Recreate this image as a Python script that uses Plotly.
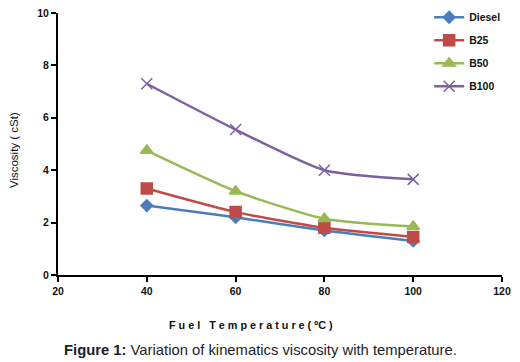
import plotly.graph_objects as go

temps = [40, 60, 80, 100]
diesel = [2.65, 2.2, 1.7, 1.3]
b25 = [3.3, 2.4, 1.8, 1.45]
b50 = [4.75, 3.2, 2.15, 1.85]
b100 = [7.3, 5.55, 4.0, 3.65]

series = [
    ("Diesel", diesel, "#4a7ebb", "diamond", 9),
    ("B25", b25, "#be4b48", "square", 11),
    ("B50", b50, "#98b954", "triangle-up", 11),
    ("B100", b100, "#7d60a0", "x-thin-open", 11),
]

fig = go.Figure()
for name, vals, col, sym, sz in series:
    fig.add_trace(go.Scatter(
        x=temps, y=vals, name=name, legendgroup=name, mode="lines+markers",
        line=dict(color=col, width=2.5, shape="spline", smoothing=0.6),
        marker=dict(symbol=sym, size=sz, color=col, line=dict(color=col, width=1.5)),
    ))

fig.update_layout(
    width=520, height=362,
    margin=dict(l=50, r=26, t=5, b=95, autoexpand=False),
    paper_bgcolor="white", plot_bgcolor="white",
    font=dict(family="Liberation Sans, Arial", color="#111", size=11),
    showlegend=True,
    legend=dict(x=0.836, y=1.039, xanchor="left", yanchor="top",
                font=dict(size=10.5, color="#111", weight="bold"), tracegroupgap=4,
                itemwidth=30, bgcolor="rgba(0,0,0,0)"),
    xaxis=dict(range=[20, 120], dtick=20, showgrid=False, zeroline=False,
               showline=True, linecolor="black", linewidth=2, automargin=False,
               ticks="outside", ticklen=5, tickcolor="black", tickwidth=1.5,
               ticklabeloverflow="allow",
               tickfont=dict(size=10.5, color="#111", weight="bold")),
    yaxis=dict(range=[0, 10], dtick=2, showgrid=False, zeroline=False,
               showline=True, linecolor="black", linewidth=2, automargin=False,
               ticks="outside", ticklen=5, tickcolor="black", tickwidth=1.5,
               ticklabeloverflow="allow",
               tickfont=dict(size=10.5, color="#111", weight="bold")),
    annotations=[
        dict(text="Viscosity ( cSt)", x=-0.099, y=0.477, xref="paper", yref="paper",
             textangle=-90, showarrow=False, font=dict(size=11.5, color="#111"),
             xanchor="center", yanchor="middle"),
        dict(text="<b>F u e l   T e m p e r a t u r e ( ºC )</b>", x=0.435, y=-0.191, xref="paper", yref="paper",
             showarrow=False, font=dict(size=10.8, color="#111", family="Liberation Sans, Arial"),
             xanchor="center", yanchor="middle"),
        dict(text="<b>Figure 1:</b> Variation of kinematics viscosity with temperature.",
             x=0.455, y=-0.286, xref="paper", yref="paper", showarrow=False,
             font=dict(size=14.8, color="#1c1c2c", family="Liberation Sans, Arial"),
             xanchor="center", yanchor="middle"),
    ],
)

fig.write_html("out.html")
